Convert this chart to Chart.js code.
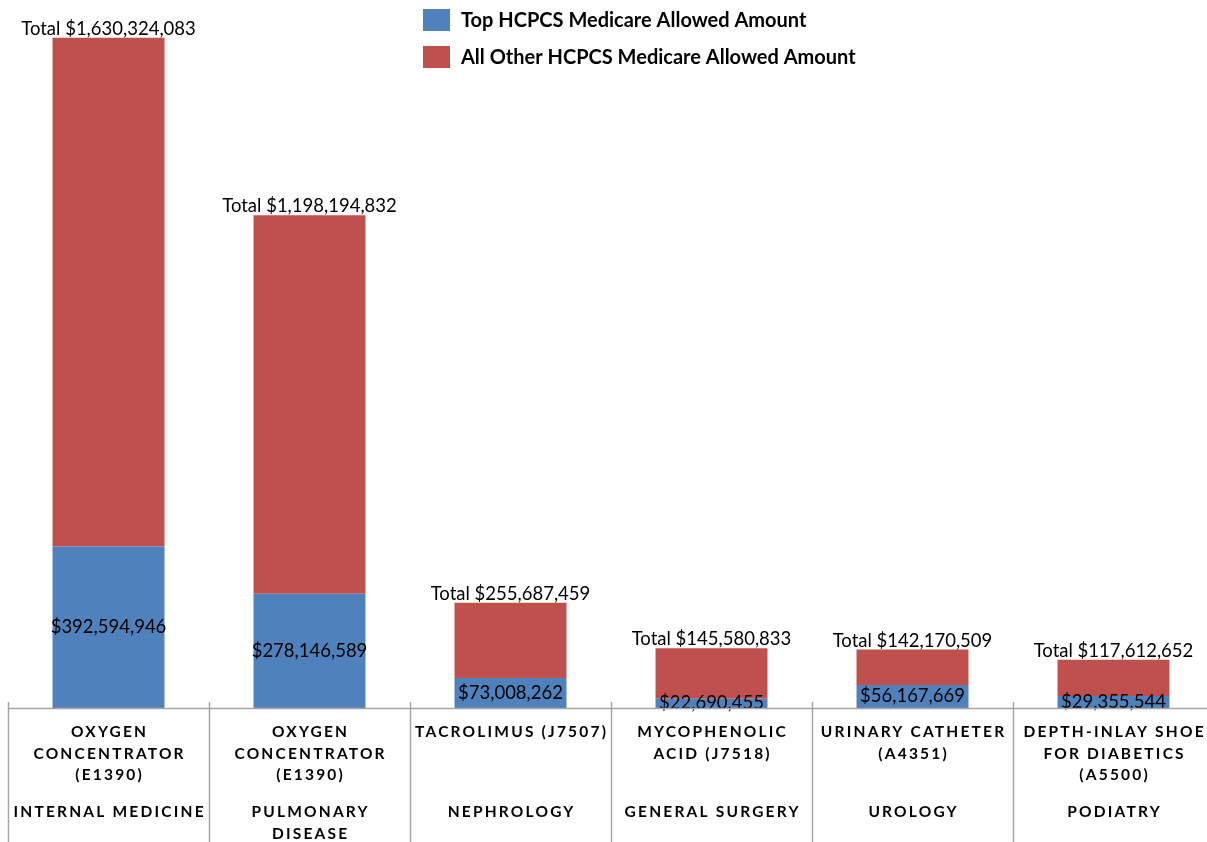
<!DOCTYPE html>
<html>
<head>
<meta charset="utf-8">
<title>Top HCPCS Medicare Allowed Amount by Specialty</title>
<script src="https://cdn.jsdelivr.net/npm/chart.js"></script>
<style>
  html, body { margin: 0; padding: 0; background: #fff; overflow: hidden; }
  canvas { display: block; }
</style>
</head>
<body>
<canvas id="myChart" width="1216" height="842"></canvas>
<script>
// Top HCPCS code per specialty (first label row) and the specialty (second row)
const products = [
  ["OXYGEN", "CONCENTRATOR", "(E1390)"],
  ["OXYGEN", "CONCENTRATOR", "(E1390)"],
  ["TACROLIMUS (J7507)"],
  ["MYCOPHENOLIC", "ACID (J7518)"],
  ["URINARY CATHETER", "(A4351)"],
  ["DEPTH-INLAY SHOE", "FOR DIABETICS", "(A5500)"],
];
const specialties = [
  ["INTERNAL MEDICINE"],
  ["PULMONARY", "DISEASE"],
  ["NEPHROLOGY"],
  ["GENERAL SURGERY"],
  ["UROLOGY"],
  ["PODIATRY"],
];

const topAmounts = [392594946, 278146589, 73008262, 22690455, 56167669, 29355544];
const totals = [1630324083, 1198194832, 255687459, 145580833, 142170509, 117612652];
const otherAmounts = totals.map((t, i) => t - topAmounts[i]);

const seriesNames = ["Top HCPCS Medicare Allowed Amount", "All Other HCPCS Medicare Allowed Amount"];

const BLUE = "#4F81BD";
const RED = "#C0504D";
const FONT = "Lato";

function money(v) {
  return "$" + v.toLocaleString("en-US");
}

// amounts inside the blue part + totals on top of each stack
const valueLabels = {
  id: "valueLabels",
  afterDatasetsDraw(chart) {
    const ctx = chart.ctx;
    const topMeta = chart.getDatasetMeta(0);
    const otherMeta = chart.getDatasetMeta(1);
    ctx.save();
    ctx.font = `18.5px ${FONT}`;
    ctx.fillStyle = "#000";
    ctx.textAlign = "center";
    ctx.textBaseline = "middle";
    topMeta.data.forEach((bar, i) => {
      ctx.fillText(money(topAmounts[i]), bar.x, (bar.y + bar.base) / 2);
      ctx.fillText("Total " + money(totals[i]), bar.x, otherMeta.data[i].y - 9);
    });
    ctx.restore();
  },
};

// category axis with separators and two label rows, plus the legend box
const categoryAxis = {
  id: "categoryAxis",
  afterDraw(chart) {
    const { ctx, chartArea } = chart;
    const xs = chart.scales.x;
    const step = (xs.right - xs.left) / products.length;
    const base = chartArea.bottom;

    ctx.save();
    ctx.strokeStyle = "#a6a6a6";
    ctx.lineWidth = 1.5;
    ctx.beginPath();
    ctx.moveTo(xs.left, base + 0.5);
    ctx.lineTo(xs.right, base + 0.5);
    for (let i = 0; i <= products.length; i++) {
      const px = Math.round(xs.left + i * step) + 0.5;
      ctx.moveTo(px, base - 6);
      ctx.lineTo(px, chart.height);
    }
    ctx.stroke();

    const spacing = 2.2;
    ctx.font = `bold 15.5px ${FONT}`;
    ctx.letterSpacing = spacing + "px";
    ctx.fillStyle = "#000";
    ctx.textAlign = "center";
    ctx.textBaseline = "middle";
    products.forEach((lines, i) => {
      const cx = xs.getPixelForValue(i) + spacing / 2;
      lines.forEach((t, j) => ctx.fillText(t, cx, base + 24 + j * 21.5));
      specialties[i].forEach((t, j) => ctx.fillText(t, cx, base + 104 + j * 21.5));
    });

    // legend
    ctx.letterSpacing = "0px";
    ctx.font = `bold 20px ${FONT}`;
    ctx.textAlign = "left";
    [BLUE, RED].forEach((color, i) => {
      const y = 9 + i * 37;
      ctx.fillStyle = color;
      ctx.fillRect(423, y, 27, 22);
      ctx.fillStyle = "#000";
      ctx.fillText(seriesNames[i], 461, y + 12);
    });
    ctx.restore();
  },
};

new Chart(document.getElementById("myChart"), {
  type: "bar",
  data: {
    labels: products.map((p) => p.join(" ")),
    datasets: [
      {
        label: seriesNames[0],
        data: topAmounts,
        backgroundColor: BLUE,
        borderWidth: 0,
      },
      {
        label: seriesNames[1],
        data: otherAmounts,
        backgroundColor: RED,
        borderWidth: 0,
      },
    ],
  },
  options: {
    responsive: false,
    animation: false,
    layout: {
      padding: { top: 9, bottom: 134, left: 8, right: 2 },
    },
    datasets: {
      bar: { categoryPercentage: 1, barPercentage: 0.557 },
    },
    plugins: {
      legend: { display: false },
      tooltip: { enabled: false },
    },
    scales: {
      x: { stacked: true, display: false },
      y: { stacked: true, display: false, min: 0, max: 1700000000 },
    },
  },
  plugins: [valueLabels, categoryAxis],
});
</script>
</body>
</html>
